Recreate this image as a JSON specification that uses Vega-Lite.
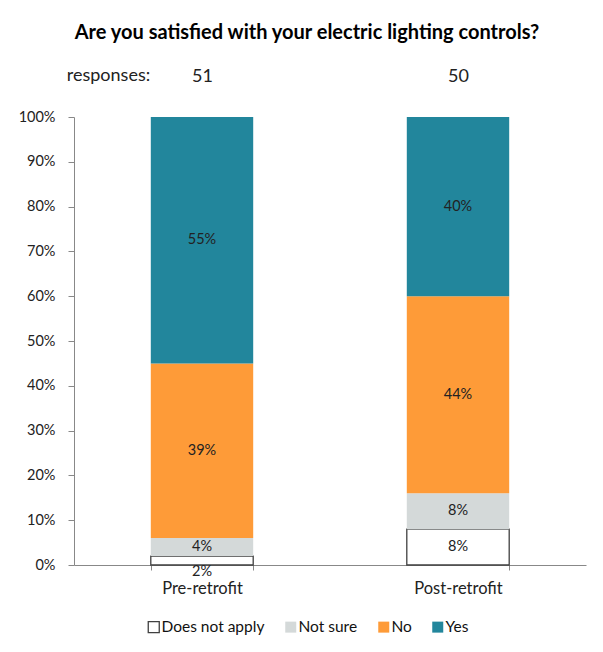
{
  "$schema": "https://vega.github.io/schema/vega-lite/v6.json",
  "width": 512,
  "height": 448,
  "autosize": {"type": "none"},
  "padding": {"left": 74, "top": 117, "right": 17, "bottom": 87},
  "background": "white",
  "config": {"font": "Lato", "view": {"stroke": null}},
  "title": {
    "text": "Are you satisfied with your electric lighting controls?",
    "fontSize": 20,
    "fontWeight": "bold",
    "color": "#000000",
    "frame": "group",
    "anchor": "middle",
    "dx": -23,
    "offset": 13,
    "baseline": "middle"
  },
  "data": {
    "values": [
      {"phase": "Pre-retrofit", "responses": 51, "status": "Does not apply", "pct": 0.02},
      {"phase": "Pre-retrofit", "responses": 51, "status": "Not sure", "pct": 0.04},
      {"phase": "Pre-retrofit", "responses": 51, "status": "No", "pct": 0.39},
      {"phase": "Pre-retrofit", "responses": 51, "status": "Yes", "pct": 0.55},
      {"phase": "Post-retrofit", "responses": 50, "status": "Does not apply", "pct": 0.08},
      {"phase": "Post-retrofit", "responses": 50, "status": "Not sure", "pct": 0.08},
      {"phase": "Post-retrofit", "responses": 50, "status": "No", "pct": 0.44},
      {"phase": "Post-retrofit", "responses": 50, "status": "Yes", "pct": 0.40}
    ]
  },
  "resolve": {"scale": {"x": "independent"}, "axis": {"x": "independent"}},
  "layer": [
    {
      "transform": [{"window": [{"op": "row_number", "as": "idx"}], "groupby": ["phase"]}],
      "layer": [
        {
          "mark": {"type": "bar", "strokeWidth": 1.3},
          "encoding": {
            "x": {
              "field": "phase", "type": "nominal", "sort": null,
              "scale": {"paddingInner": 0.6, "paddingOuter": 0.3},
              "axis": {
                "title": null, "labelAngle": 0, "domainColor": "#888888", "tickColor": "#888888",
                "tickSize": 5, "tickBand": "extent", "labelPadding": 10, "labelFontSize": 16.5,
                "labelColor": "#222222", "grid": false
              }
            },
            "y": {
              "field": "pct", "type": "quantitative", "stack": "zero",
              "scale": {"domain": [0, 1]},
              "axis": {
                "title": null, "format": ".0%", "values": [0, 0.1, 0.2, 0.3, 0.4, 0.5, 0.6, 0.7, 0.8, 0.9, 1],
                "grid": false, "domainColor": "#888888", "tickColor": "#888888", "tickSize": 6,
                "labelPadding": 13, "labelFontSize": 14.5, "labelColor": "#222222"
              }
            },
            "order": {"field": "idx", "type": "quantitative", "sort": "ascending"},
            "color": {
              "field": "status", "type": "nominal",
              "scale": {"domain": ["Does not apply", "Not sure", "No", "Yes"], "range": ["#ffffff", "#d4d9d9", "#fe9b38", "#22869c"]},
              "legend": {
                "title": null, "orient": "none", "direction": "horizontal", "legendX": 72, "legendY": 502,
                "symbolType": "square", "symbolSize": 121, "labelFontSize": 15.5, "labelColor": "#111111",
                "labelOffset": 0, "columnPadding": 17, "padding": 0, "symbolStrokeWidth": 1.3
              }
            },
            "stroke": {
              "field": "status", "type": "nominal",
              "scale": {"domain": ["Does not apply", "Not sure", "No", "Yes"], "range": ["#404040", "transparent", "transparent", "transparent"]},
              "legend": {
                "title": null, "orient": "none", "direction": "horizontal", "legendX": 72, "legendY": 502,
                "symbolType": "square", "symbolSize": 121, "labelFontSize": 15.5, "labelColor": "#111111",
                "labelOffset": 0, "columnPadding": 17, "padding": 0, "symbolStrokeWidth": 1.3
              }
            }
          }
        },
        {
          "mark": {"type": "text", "fontSize": 14.5, "color": "#222222"},
          "encoding": {
            "x": {"field": "phase", "type": "nominal", "sort": null},
            "y": {"field": "pct", "type": "quantitative", "stack": "zero", "bandPosition": 0.5},
            "detail": {"field": "status", "type": "nominal"},
            "order": {"field": "idx", "type": "quantitative", "sort": "ascending"},
            "text": {"condition": {"test": "datum.pct < 0.03", "value": ""}, "field": "pct", "type": "quantitative", "format": ".0%"}
          }
        },
        {
          "mark": {"type": "text", "fontSize": 14.5, "dy": 11, "color": "#222222"},
          "encoding": {
            "x": {"field": "phase", "type": "nominal", "sort": null},
            "y": {"field": "pct", "type": "quantitative", "stack": "zero", "bandPosition": 0.5},
            "detail": {"field": "status", "type": "nominal"},
            "order": {"field": "idx", "type": "quantitative", "sort": "ascending"},
            "text": {"condition": {"test": "datum.pct >= 0.03", "value": ""}, "field": "pct", "type": "quantitative", "format": ".0%"}
          }
        }
      ]
    },
    {
      "mark": {"type": "text", "opacity": 0},
      "encoding": {
        "x": {
          "field": "responses", "type": "ordinal", "sort": null,
          "scale": {"paddingInner": 0.6, "paddingOuter": 0.3},
          "axis": {
            "orient": "top", "domain": false, "ticks": false, "tickSize": 0, "labelPadding": 32,
            "labelFontSize": 18, "labelColor": "#222222", "labelAngle": 0,
            "title": "responses:", "titleFontWeight": "normal", "titleFontSize": 18, "titleColor": "#222222",
            "titleX": 34, "titleY": -42, "titleAlign": "center", "titleBaseline": "middle", "titleAngle": 0
          }
        },
        "text": {"value": ""}
      }
    }
  ]
}
